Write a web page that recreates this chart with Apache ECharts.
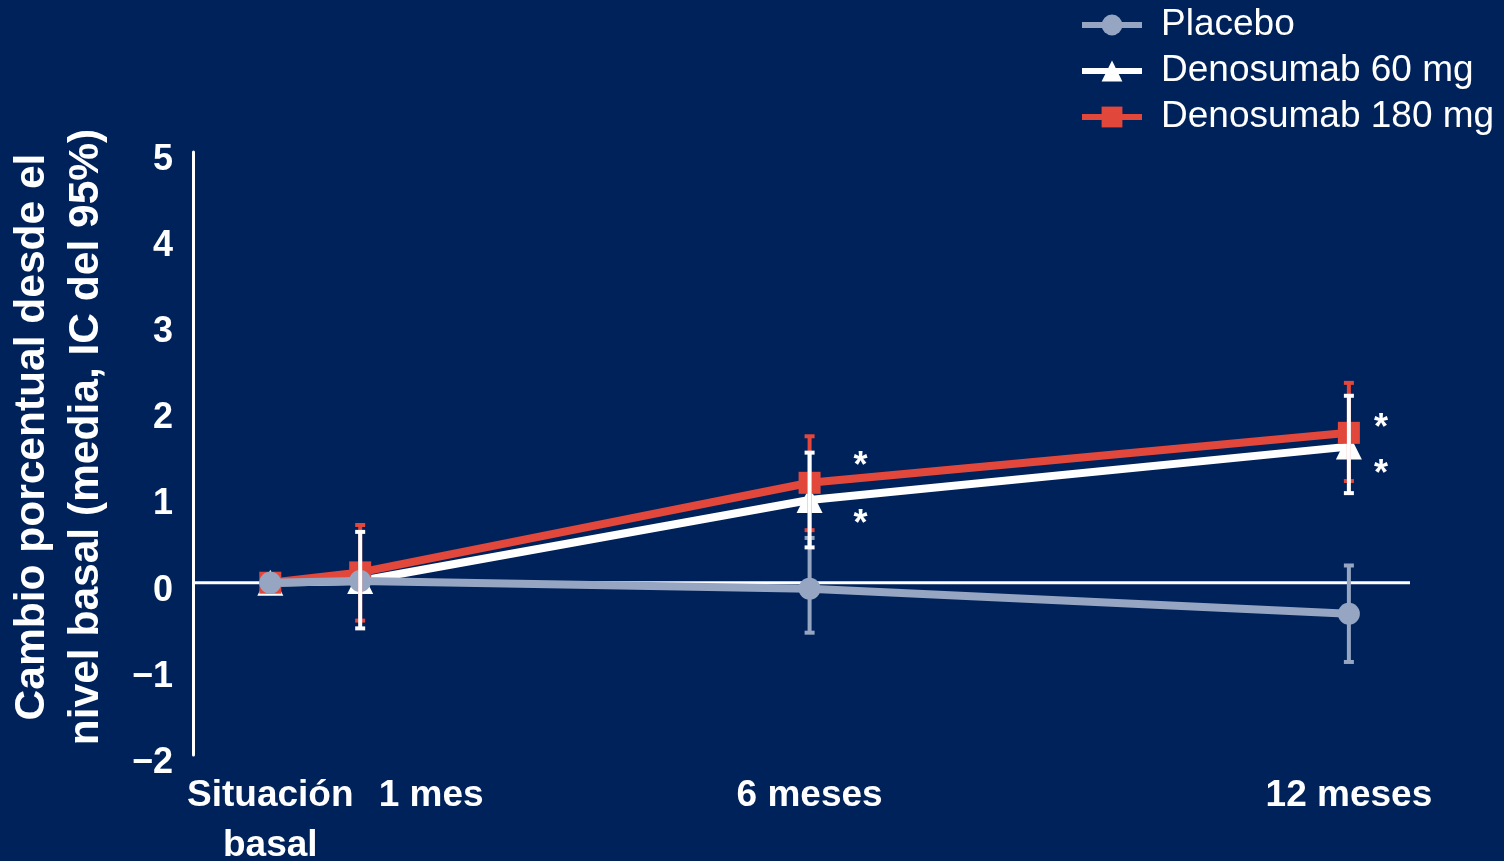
<!DOCTYPE html>
<html>
<head>
<meta charset="utf-8">
<script src="https://cdn.jsdelivr.net/npm/echarts@6/dist/echarts.min.js"></script>
<style>
  html, body { margin: 0; padding: 0; background: #00225A; }
  #chart { width: 1504px; height: 861px; }
</style>
</head>
<body>
<div id="chart"></div>
<script>
// Visit times in months and their axis labels
const months = [0, 1, 6, 12];
const xLabels = ['Situación\nbasal', '1 mes', '6 meses', '12 meses'];
const yTicks = [-2, -1, 0, 1, 2, 3, 4, 5];

// Mean percent change from baseline with 95% CI bounds
const placeboMean = [0, 0.02, -0.07, -0.36];
const placeboLow  = [null, null, -0.58, -0.92];
const placeboHigh = [null, null, 0.52, 0.20];

const d60Mean = [0, 0.02, 0.96, 1.58];
const d60Low  = [null, -0.53, 0.41, 1.04];
const d60High = [null, 0.59, 1.51, 2.17];

const d180Mean = [0, 0.12, 1.16, 1.74];
const d180Low  = [null, -0.44, 0.61, 1.18];
const d180High = [null, 0.67, 1.70, 2.32];

// Significance markers per visit
const sig60  = ['', '', '*', '*'];
const sig180 = ['', '', '*', '*'];

const seriesNames = ['Placebo', 'Denosumab 60 mg', 'Denosumab 180 mg'];

const BG = '#00225A';
const WHITE = '#FFFFFF';
const GREY = '#96A6C2';
const RED = '#E2473C';
const FONT = '"Liberation Sans", Arial, sans-serif';

const X_MIN = -0.86, X_MAX = 12.68;

function points(mean, sig, offsets) {
  return months.map((m, i) => {
    const item = { value: [m, mean[i]] };
    if (sig && sig[i]) {
      item.label = {
        show: true,
        formatter: sig[i],
        position: 'inside',
        offset: offsets[i],
        color: WHITE,
        fontSize: 36,
        fontWeight: 'bold',
        fontFamily: FONT
      };
    }
    return item;
  });
}

function errData(low, high) {
  const out = [];
  months.forEach((m, i) => {
    if (low[i] != null && high[i] != null) out.push([m, low[i], high[i]]);
  });
  return out;
}

function errRender(color) {
  return function (params, api) {
    const x = api.value(0);
    const top = api.coord([x, api.value(2)]);
    const bot = api.coord([x, api.value(1)]);
    const capW = 10, capH = 4;
    return {
      type: 'group',
      children: [
        { type: 'line', shape: { x1: top[0], y1: top[1], x2: bot[0], y2: bot[1] },
          style: { stroke: color, lineWidth: 4 } },
        { type: 'rect', shape: { x: top[0] - capW / 2, y: top[1] - capH / 2, width: capW, height: capH },
          style: { fill: color } },
        { type: 'rect', shape: { x: bot[0] - capW / 2, y: bot[1] - capH / 2, width: capW, height: capH },
          style: { fill: color } }
      ]
    };
  };
}

function labelFor(v) {
  const i = months.indexOf(v);
  return i < 0 ? '' : xLabels[i];
}

const xLabelStyle = {
  margin: 16,
  color: WHITE,
  fontSize: 37,
  fontWeight: 'bold',
  fontFamily: FONT,
  lineHeight: 50
};

// Two x axes on one scale: the "1 mes" label sits to the right of its visit
// and would otherwise collide with the baseline label.
function xAxisDef(values, extra) {
  return {
    type: 'value',
    position: 'bottom',
    min: X_MIN,
    max: X_MAX,
    axisLine: { show: false, onZero: false },
    axisTick: { show: false },
    splitLine: { show: false },
    axisLabel: Object.assign({ customValues: values, formatter: labelFor }, xLabelStyle, extra || {})
  };
}

const chart = echarts.init(document.getElementById('chart'), null, { renderer: 'canvas' });

const option = {
  backgroundColor: BG,
  animation: false,
  textStyle: { fontFamily: FONT },
  grid: { left: 193, right: 94, top: 152, bottom: 106, containLabel: false, outerBoundsMode: 'none' },
  legend: {
    data: seriesNames,
    orient: 'vertical',
    left: 1074,
    top: 0,
    itemWidth: 60,
    itemHeight: 26,
    itemGap: 6,
    lineStyle: { width: 6 },
    textStyle: {
      color: WHITE,
      fontSize: 37,
      fontFamily: FONT,
      lineHeight: 40,
      padding: [0, 0, 0, 14]
    }
  },
  xAxis: [
    xAxisDef([0, 6, 12]),
    xAxisDef([1], {
      formatter: function (v) { return '{shift|' + labelFor(v) + '}'; },
      rich: {
        shift: {
          color: WHITE,
          fontSize: 37,
          fontWeight: 'bold',
          fontFamily: FONT,
          lineHeight: 50,
          padding: [0, 0, 0, 142]
        }
      }
    })
  ],
  yAxis: {
    type: 'value',
    min: yTicks[0],
    max: yTicks[yTicks.length - 1],
    interval: 1,
    axisLine: { show: true, onZero: false, lineStyle: { color: WHITE, width: 3 } },
    axisTick: { show: false },
    splitLine: { show: false },
    axisLabel: {
      margin: 20,
      formatter: function (v) { return '{v|' + (v < 0 ? '\u2212' + Math.abs(v) : String(v)) + '}'; },
      rich: {
        v: {
          color: WHITE,
          fontSize: 36,
          fontWeight: 'bold',
          fontFamily: FONT,
          padding: [16, 0, 0, 0]
        }
      }
    }
  },
  graphic: [{
    type: 'text',
    x: 59,
    y: 437,
    rotation: Math.PI / 2,
    style: {
      text: 'Cambio porcentual desde el\nnivel basal (media, IC del 95%)',
      fill: WHITE,
      font: 'bold 42.5px ' + FONT,
      lineHeight: 54,
      align: 'center',
      verticalAlign: 'middle'
    }
  }],
  series: [
    {
      name: 'zero',
      type: 'line',
      data: [[X_MIN, 0], [X_MAX, 0]],
      symbol: 'none',
      lineStyle: { color: WHITE, width: 3 },
      silent: true,
      z: 1
    },
    {
      name: 'Denosumab 60 mg',
      type: 'line',
      data: points(d60Mean, sig60, [null, null, [51, 25], [32, 28]]),
      symbol: 'triangle',
      symbolSize: 26,
      itemStyle: { color: WHITE },
      lineStyle: { color: WHITE, width: 8 },
      z: 2
    },
    {
      name: 'Denosumab 180 mg',
      type: 'line',
      data: points(d180Mean, sig180, [null, null, [51, -16], [32, -4]]),
      symbol: 'rect',
      symbolSize: 22,
      itemStyle: { color: RED },
      lineStyle: { color: RED, width: 8 },
      z: 3
    },
    {
      name: 'Placebo',
      type: 'line',
      data: points(placeboMean, null, null),
      symbol: 'circle',
      symbolSize: 22,
      itemStyle: { color: GREY },
      lineStyle: { color: GREY, width: 8 },
      z: 4
    },
    {
      name: 'Placebo IC',
      type: 'custom',
      renderItem: errRender(GREY),
      data: errData(placeboLow, placeboHigh),
      encode: { x: 0, y: [1, 2] },
      silent: true,
      z: 5
    },
    {
      name: 'Denosumab 180 mg IC',
      type: 'custom',
      renderItem: errRender(RED),
      data: errData(d180Low, d180High),
      encode: { x: 0, y: [1, 2] },
      silent: true,
      z: 6
    },
    {
      name: 'Denosumab 60 mg IC',
      type: 'custom',
      renderItem: errRender(WHITE),
      data: errData(d60Low, d60High),
      encode: { x: 0, y: [1, 2] },
      silent: true,
      z: 7
    }
  ]
};

chart.setOption(option);
</script>
</body>
</html>
